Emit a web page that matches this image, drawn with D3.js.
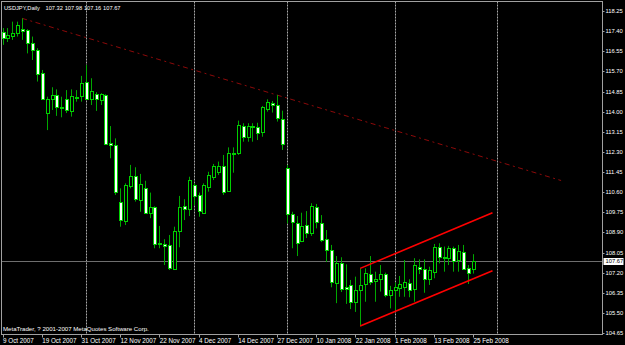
<!DOCTYPE html>
<html>
<head>
<meta charset="utf-8">
<script src="https://cdn.jsdelivr.net/npm/d3@7"></script>
<style>
    body { margin: 0; background: #000; }
    #chart-area { width: 625px; height: 345px; }
    text { font-family: "Liberation Sans", Arial, sans-serif; fill: #fff; }
</style>
</head>
<body>
<div id="chart-area"></div>
<script>
// USDJPY daily candles, 9 Oct 2007 .. 25 Feb 2008

let opens = [
    117.36, 117.12, 117.20, 117.31, 117.49, 117.45, 116.89, 116.60, 115.62, 113.93,
    114.52, 114.70, 114.21, 114.55, 114.04, 114.63, 114.63, 115.24, 114.55, 114.73,
    114.49, 114.70, 112.66, 112.59, 110.17, 109.39, 110.86, 111.28, 110.27, 110.79,
    109.75, 109.96, 108.45, 108.40, 108.37, 107.38, 108.96, 110.01, 109.89, 110.90,
    110.48, 109.73, 110.83, 111.23, 111.46, 111.70, 110.66, 112.24, 112.24, 113.39,
    112.94, 113.39, 113.37, 113.15, 114.14, 114.38, 114.28, 113.68, 111.62, 109.66,
    109.31, 108.55, 109.20, 108.89, 109.96, 109.31, 108.61, 108.16, 106.78, 107.61,
    106.61, 106.68, 105.96, 106.45, 106.70, 107.14, 106.82, 106.92, 107.13, 106.26,
    106.44, 106.54, 106.61, 106.78, 106.50, 107.45, 107.35, 106.92, 107.24, 108.27,
    107.87, 107.81, 108.23, 107.73, 108.08, 107.41, 107.32];

let highs = [
    117.53, 117.53, 117.80, 117.80, 117.94, 117.48, 117.17, 116.68, 115.76, 114.63,
    115.03, 114.94, 114.63, 114.91, 114.94, 114.91, 115.51, 115.97, 115.41, 114.82,
    114.78, 114.73, 113.39, 112.87, 110.76, 110.97, 111.75, 111.65, 111.37, 111.08,
    110.58, 110.00, 109.17, 108.61, 108.79, 109.14, 110.44, 110.30, 111.25, 110.97,
    110.58, 110.97, 111.46, 111.79, 111.89, 112.17, 112.49, 112.49, 113.62, 113.51,
    113.51, 113.51, 113.53, 114.24, 114.52, 114.45, 114.70, 114.04, 111.75, 109.77,
    109.59, 109.73, 109.80, 110.13, 110.10, 109.63, 109.00, 108.37, 107.90, 107.85,
    107.55, 106.89, 107.03, 107.38, 107.38, 107.90, 107.24, 107.52, 107.20, 106.64,
    106.78, 107.06, 107.73, 106.92, 107.81, 107.76, 107.76, 107.45, 108.41, 108.44,
    108.30, 108.33, 108.30, 108.37, 108.37, 107.52, 107.98];

let lows = [
    116.82, 116.94, 117.03, 117.17, 117.03, 116.46, 116.18, 115.27, 114.49, 113.22,
    114.07, 113.82, 113.76, 113.94, 113.79, 114.42, 114.42, 114.49, 114.28, 114.03,
    114.28, 112.59, 112.03, 110.48, 109.14, 109.21, 110.76, 110.20, 109.77, 109.71,
    109.50, 108.23, 108.23, 107.52, 107.31, 107.31, 108.27, 109.42, 109.59, 110.06,
    109.56, 109.68, 110.62, 111.11, 111.32, 110.48, 110.62, 111.42, 112.17, 112.73,
    112.73, 112.73, 112.80, 112.94, 114.00, 113.96, 113.58, 112.38, 109.28, 108.23,
    107.90, 108.49, 108.66, 108.75, 109.07, 108.49, 107.65, 106.58, 105.91, 106.38,
    105.88, 105.66, 105.54, 104.93, 105.97, 106.68, 105.97, 106.40, 106.16, 105.69,
    105.62, 106.18, 106.18, 106.16, 105.97, 107.14, 106.35, 106.68, 106.96, 107.59,
    107.24, 107.52, 107.24, 107.24, 107.31, 106.72, 107.16];

let closes = [
    117.11, 117.24, 117.33, 117.66, 117.41, 116.89, 116.60, 115.59, 114.52, 114.52,
    114.70, 114.18, 114.17, 114.10, 114.66, 114.61, 115.20, 114.53, 114.89, 114.53,
    114.73, 112.62, 112.56, 110.62, 109.42, 110.90, 111.28, 110.30, 110.94, 109.73,
    109.99, 108.41, 108.39, 108.30, 107.38, 108.97, 109.96, 109.87, 111.11, 110.44,
    109.82, 110.90, 111.32, 111.70, 111.70, 110.62, 112.27, 112.19, 113.44, 112.92,
    113.39, 113.34, 113.13, 114.21, 114.42, 114.30, 113.72, 112.63, 109.66, 109.31,
    108.47, 109.17, 108.87, 110.01, 109.31, 108.61, 108.16, 106.80, 107.61, 106.51,
    106.53, 105.98, 106.45, 106.68, 107.17, 106.82, 106.92, 107.14, 106.26, 106.47,
    106.58, 106.72, 106.82, 106.50, 107.52, 107.35, 106.93, 107.31, 108.30, 107.85,
    107.81, 108.23, 107.70, 108.13, 107.38, 107.20, 107.67];

// time axis labels (bar index -> text)
let dateTickIdx = [0, 8, 16, 24, 32, 40, 48, 56, 64, 72, 80, 88, 96];
let dateTickLabels = ["9 Oct 2007", "19 Oct 2007", "31 Oct 2007", "12 Nov 2007", "22 Nov 2007",
    "4 Dec 2007", "14 Dec 2007", "27 Dec 2007", "10 Jan 2008", "22 Jan 2008",
    "1 Feb 2008", "13 Feb 2008", "25 Feb 2008"];

// price axis
let priceTicks = [104.65, 105.50, 106.35, 107.20, 108.05, 108.90, 109.75, 110.60, 111.45,
    112.30, 113.15, 114.00, 114.85, 115.70, 116.55, 117.40, 118.25];

// month separators (first bar of each month)
let separatorIdx = [17, 39, 58, 80, 101];

// drawn objects: [startIdx, startPrice, endIdx, endPrice]
let resistanceLine = [4, 117.94, 114, 111.09];
let channelTop = [73, 107.38, 100, 109.73];
let channelBottom = [73, 104.95, 100, 107.28];

let headerParts = ["USDJPY,Daily", "107.32", "107.98", "107.16", "107.67"];
let footer = "MetaTrader, ? 2001-2007 MetaQuotes Software Corp.";


class CandleChart {

    constructor(parentElement) {
        this.parentElement = parentElement;
        this.displayData = [];
        this.initVis();
    }

    initVis() {
        let vis = this;

        vis.width = 625;
        vis.height = 345;
        vis.plot = {left: 1.5, top: 1.5, right: 602.5, bottom: 334.5};

        vis.svg = d3.select("#" + vis.parentElement).append("svg")
            .attr("width", vis.width)
            .attr("height", vis.height)
            .style("display", "block")
            .style("background", "#000");

        // scales
        vis.x = d3.scaleLinear().domain([0, 100]).range([2.5, 492.5]);
        vis.y = d3.scaleLinear().domain([104.65, 118.25]).range([333, 11]);

        vis.svg.append("defs").append("clipPath")
            .attr("id", "clip")
            .append("rect")
            .attr("x", vis.plot.left)
            .attr("y", vis.plot.top)
            .attr("width", vis.plot.right - vis.plot.left)
            .attr("height", vis.plot.bottom - vis.plot.top);

        vis.chart = vis.svg.append("g").attr("clip-path", "url(#clip)");

        vis.wrangleData();
    }

    wrangleData() {
        let vis = this;

        vis.displayData = opens.map((o, i) => ({
            idx: i,
            open: o,
            high: highs[i],
            low: lows[i],
            close: closes[i]
        }));

        vis.updateVis();
    }

    updateVis() {
        let vis = this;
        let px = i => Math.round(vis.x(i));

        // period separators
        vis.chart.selectAll(".sep")
            .data(separatorIdx)
            .enter().append("line")
            .attr("class", "sep")
            .attr("x1", d => px(d) + 0.5)
            .attr("x2", d => px(d) + 0.5)
            .attr("y1", vis.plot.top)
            .attr("y2", vis.plot.bottom)
            .attr("stroke", "#a8a8a8")
            .attr("stroke-dasharray", "2,1");

        // current price line
        let last = closes[closes.length - 1];
        vis.chart.append("line")
            .attr("x1", vis.plot.left)
            .attr("x2", vis.plot.right)
            .attr("y1", Math.round(vis.y(last)) + 0.5)
            .attr("y2", Math.round(vis.y(last)) + 0.5)
            .attr("stroke", "#6e6e6e");

        // resistance trendline
        vis.chart.append("line")
            .attr("x1", vis.x(resistanceLine[0]))
            .attr("y1", vis.y(resistanceLine[1]))
            .attr("x2", vis.x(resistanceLine[2]))
            .attr("y2", vis.y(resistanceLine[3]))
            .attr("stroke", "#8c0a0a")
            .attr("stroke-width", 1)
            .attr("stroke-dasharray", "5,3.5,2,3.5");

        // wicks
        vis.chart.selectAll(".wick")
            .data(vis.displayData)
            .enter().append("line")
            .attr("class", "wick")
            .attr("x1", d => px(d.idx) + 0.5)
            .attr("x2", d => px(d.idx) + 0.5)
            .attr("y1", d => vis.y(d.high))
            .attr("y2", d => vis.y(d.low))
            .attr("stroke", "#00a800");

        // bodies: bear candles white, bull candles black, lime outline
        vis.chart.selectAll(".body")
            .data(vis.displayData)
            .enter().append("rect")
            .attr("class", "body")
            .attr("x", d => px(d.idx) - 0.5)
            .attr("width", 3)
            .attr("y", d => Math.round(vis.y(Math.max(d.open, d.close))) + 0.5)
            .attr("height", d => Math.max(1, Math.round(Math.abs(vis.y(d.open) - vis.y(d.close)))))
            .attr("fill", d => d.close < d.open ? "#ffffff" : "#000000")
            .attr("stroke", "#00d000");

        // channel
        [channelTop, channelBottom].forEach(l => {
            vis.chart.append("line")
                .attr("x1", vis.x(l[0]))
                .attr("y1", vis.y(l[1]))
                .attr("x2", vis.x(l[2]))
                .attr("y2", vis.y(l[3]))
                .attr("stroke", "#ff0000")
                .attr("stroke-width", 1.6);
        });

        // frame
        vis.svg.append("rect")
            .attr("x", vis.plot.left)
            .attr("y", vis.plot.top)
            .attr("width", vis.plot.right - vis.plot.left)
            .attr("height", vis.plot.bottom - vis.plot.top)
            .attr("fill", "none")
            .attr("stroke", "#a0a0a0");

        // price axis
        let yAxis = vis.svg.append("g").attr("class", "y-axis");
        yAxis.selectAll("line")
            .data(priceTicks)
            .enter().append("line")
            .attr("x1", vis.plot.right)
            .attr("x2", vis.plot.right + 2)
            .attr("y1", d => Math.round(vis.y(d)) + 0.5)
            .attr("y2", d => Math.round(vis.y(d)) + 0.5)
            .attr("stroke", "#a0a0a0");
        yAxis.selectAll("text")
            .data(priceTicks)
            .enter().append("text")
            .attr("x", vis.plot.right + 3)
            .attr("y", d => vis.y(d) + 2)
            .style("font-size", "5.8px")
            .text(d => d.toFixed(2));

        // current price marker
        let tag = vis.svg.append("g");
        tag.append("rect")
            .attr("x", vis.plot.right + 1)
            .attr("y", vis.y(last) - 3.5)
            .attr("width", 20)
            .attr("height", 7)
            .attr("fill", "#fff");
        tag.append("text")
            .attr("x", vis.plot.right + 3)
            .attr("y", vis.y(last) + 2)
            .style("font-size", "5.8px")
            .style("fill", "#000")
            .text(last.toFixed(2));

        // time axis
        let xAxis = vis.svg.append("g").attr("class", "x-axis");
        xAxis.selectAll("line")
            .data(dateTickIdx)
            .enter().append("line")
            .attr("x1", d => px(d) + 0.5)
            .attr("x2", d => px(d) + 0.5)
            .attr("y1", vis.plot.bottom)
            .attr("y2", vis.plot.bottom + 3)
            .attr("stroke", "#a0a0a0");
        xAxis.selectAll("text")
            .data(dateTickIdx)
            .enter().append("text")
            .attr("x", d => vis.x(d) + 0.5)
            .attr("y", 343)
            .style("font-size", "6.3px")
            .text((d, i) => dateTickLabels[i]);

        // header: symbol, then O H L C spread like the terminal font
        vis.svg.append("text")
            .attr("y", 9.5)
            .style("font-size", "5.7px")
            .selectAll("tspan")
            .data(headerParts)
            .enter().append("tspan")
            .attr("x", (d, i) => i === 0 ? 4 : 45.5 + (i - 1) * 19.2)
            .text(d => d);

        vis.svg.append("text")
            .attr("x", 3)
            .attr("y", 331)
            .style("font-size", "6.1px")
            .text(footer);
    }
}

let chart = new CandleChart("chart-area");
</script>
</body>
</html>
